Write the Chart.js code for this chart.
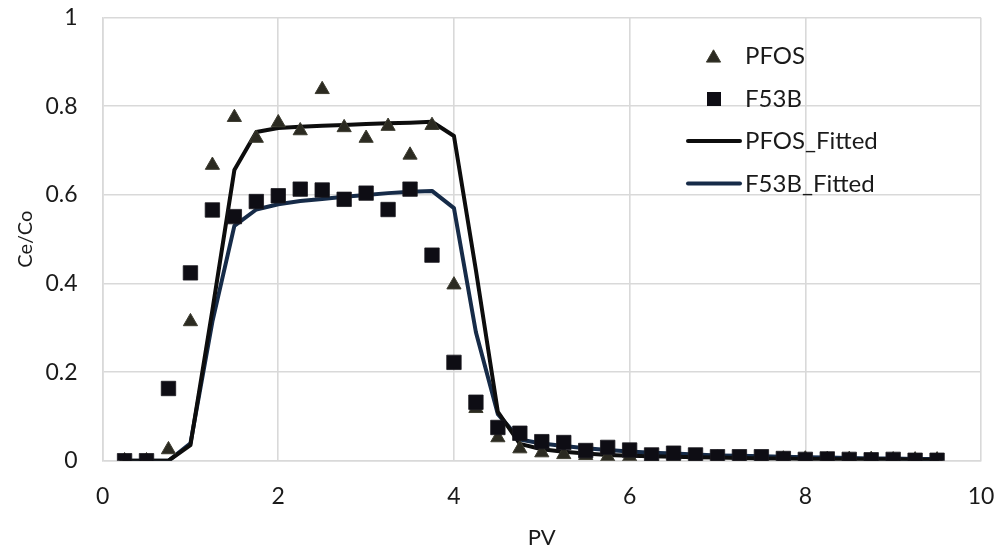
<!DOCTYPE html>
<html>
<head>
<meta charset="utf-8">
<script src="https://cdn.jsdelivr.net/npm/chart.js@4/dist/chart.umd.min.js"></script>
<style>
html,body{margin:0;padding:0;background:#ffffff;}
#wrap{width:1000px;height:550px;}
</style>
</head>
<body>
<div id="wrap"><canvas id="c" width="1000" height="550"></canvas></div>
<script>
// ---- data ----
const pv = [0.25, 0.5, 0.75, 1.0, 1.25, 1.5, 1.75, 2.0, 2.25, 2.5, 2.75, 3.0, 3.25, 3.5, 3.75, 4.0, 4.25, 4.5, 4.75, 5.0,
            5.25, 5.5, 5.75, 6.0, 6.25, 6.5, 6.75, 7.0, 7.25, 7.5, 7.75, 8.0, 8.25, 8.5, 8.75, 9.0, 9.25, 9.5];

const pfos = [0, 0, 0.025, 0.314, 0.667, 0.775, 0.728, 0.763, 0.745, 0.838, 0.752, 0.728, 0.755, 0.690, 0.757, 0.397, 0.118, 0.052, 0.027, 0.018,
              0.014, 0.012, 0.009, 0.009, 0.008, 0.007, 0.006, 0.006, 0.005, 0.005, 0.004, 0.004, 0.003, 0.003, 0.003, 0.002, 0.002, 0.002];

const f53b = [0, 0, 0.163, 0.424, 0.566, 0.551, 0.585, 0.598, 0.613, 0.611, 0.590, 0.604, 0.567, 0.613, 0.464, 0.222, 0.132, 0.075, 0.062, 0.043,
              0.041, 0.023, 0.030, 0.024, 0.013, 0.017, 0.013, 0.009, 0.009, 0.009, 0.005, 0.003, 0.004, 0.003, 0.002, 0.003, 0.001, 0.001];

const pfosFitted = [0, 0, 0, 0.035, 0.340, 0.656, 0.742, 0.751, 0.754, 0.756, 0.758, 0.760, 0.762, 0.763, 0.765, 0.733, 0.430, 0.110, 0.038, 0.026,
                    0.020, 0.016, 0.013, 0.011, 0.010, 0.009, 0.008, 0.007, 0.006, 0.005, 0.005, 0.004, 0.004, 0.003, 0.003, 0.003, 0.002, 0.002];

const f53bFitted = [0, 0, 0, 0.039, 0.314, 0.530, 0.567, 0.579, 0.586, 0.591, 0.596, 0.600, 0.604, 0.607, 0.609, 0.570, 0.290, 0.105, 0.048, 0.039,
                    0.033, 0.028, 0.024, 0.021, 0.018, 0.016, 0.014, 0.012, 0.011, 0.010, 0.009, 0.008, 0.007, 0.006, 0.005, 0.005, 0.004, 0.004];

const seriesNames = ['PFOS', 'F53B', 'PFOS_Fitted', 'F53B_Fitted'];
const xTitle = 'PV';
const yTitle = 'Ce/Co';

// ---- styles ----
const FONT = 'Lato, "Open Sans", "Liberation Sans", sans-serif';
const TEXT = '#1a1a1a';
const GRID = '#d9d9d9';
const C_TRI = '#2b2a21';
const C_SQ = '#0e0d14';
const C_BLACK = '#0d0d0d';
const C_BLUE = '#162b48';

const toXY = arr => pv.map((x, i) => ({x: x, y: arr[i]}));

const legendPlugin = {
  id: 'insideLegend',
  afterDraw(chart) {
    const ctx = chart.ctx;
    const ds = chart.data.datasets;
    ctx.save();
    ctx.font = '24px ' + FONT;
    ctx.fillStyle = TEXT;
    ctx.textAlign = 'left';
    ctx.textBaseline = 'alphabetic';
    const textX = 745;
    // PFOS triangle
    const r = 8.2;
    ctx.beginPath();
    const tx = 713.5, ty = 58;
    ctx.moveTo(tx, ty - r);
    ctx.lineTo(tx + r * 0.866, ty + r * 0.5);
    ctx.lineTo(tx - r * 0.866, ty + r * 0.5);
    ctx.closePath();
    ctx.fillStyle = C_TRI; ctx.fill();
    ctx.lineWidth = 1; ctx.strokeStyle = '#3d3c30'; ctx.stroke();
    ctx.fillStyle = TEXT;
    ctx.fillText(ds[0].label, textX, 64);
    // F53B square
    ctx.fillStyle = C_SQ;
    ctx.fillRect(707, 92, 14, 14);
    ctx.fillStyle = TEXT;
    ctx.fillText(ds[1].label, textX, 106.5);
    // PFOS_Fitted line
    ctx.lineCap = 'round';
    ctx.lineWidth = 4;
    ctx.strokeStyle = C_BLACK;
    ctx.beginPath(); ctx.moveTo(688, 141); ctx.lineTo(740, 141); ctx.stroke();
    ctx.fillText(ds[2].label, textX, 149);
    // F53B_Fitted line
    ctx.strokeStyle = C_BLUE;
    ctx.beginPath(); ctx.moveTo(688, 183.5); ctx.lineTo(740, 183.5); ctx.stroke();
    ctx.fillText(ds[3].label, textX, 192);
    ctx.restore();
  }
};

const fmt = v => String(Math.round(v * 10) / 10);

new Chart(document.getElementById('c'), {
  type: 'scatter',
  data: {
    datasets: [
      {
        label: seriesNames[0], data: toXY(pfos), showLine: false,
        pointStyle: 'triangle', pointRadius: 8.2, pointHoverRadius: 8.2,
        backgroundColor: C_TRI, borderColor: '#3d3c30', borderWidth: 1, order: 1
      },
      {
        label: seriesNames[1], data: toXY(f53b), showLine: false,
        pointStyle: 'rect', pointRadius: 10.2, pointHoverRadius: 10.2,
        backgroundColor: C_SQ, borderColor: '#1a1920', borderWidth: 0.8, order: 0
      },
      {
        label: seriesNames[2], data: toXY(pfosFitted), showLine: true,
        pointRadius: 0, borderColor: C_BLACK, backgroundColor: C_BLACK,
        borderWidth: 4, tension: 0, borderJoinStyle: 'round', borderCapStyle: 'round', order: 2
      },
      {
        label: seriesNames[3], data: toXY(f53bFitted), showLine: true,
        pointRadius: 0, borderColor: C_BLUE, backgroundColor: C_BLUE,
        borderWidth: 4, tension: 0, borderJoinStyle: 'round', borderCapStyle: 'round', order: 3
      }
    ]
  },
  options: {
    responsive: false,
    animation: false,
    devicePixelRatio: 1,
    layout: { padding: { left: 0, right: 19, top: 17.7, bottom: 0 } },
    plugins: {
      legend: { display: false },
      tooltip: { enabled: false }
    },
    scales: {
      x: {
        type: 'linear', min: 0, max: 10,
        afterFit: s => { s.height = 89.3; s.paddingLeft = 0; s.paddingRight = 0; },
        ticks: { stepSize: 2, font: { family: FONT, size: 23 }, color: TEXT, padding: 22, maxRotation: 0, callback: fmt },
        grid: { color: GRID, lineWidth: 1.6, drawTicks: false },
        border: { color: GRID, width: 1.6 },
        title: { display: true, text: xTitle, font: { family: FONT, size: 22 }, color: TEXT, padding: { top: 0, bottom: -1 } }
      },
      y: {
        type: 'linear', min: 0, max: 1,
        afterFit: s => { s.width = 102.6; s.paddingTop = 0; s.paddingBottom = 0; },
        ticks: { stepSize: 0.2, font: { family: FONT, size: 23 }, color: TEXT, padding: 25, callback: fmt },
        grid: { color: GRID, lineWidth: 1.6, drawTicks: false },
        border: { color: GRID, width: 1.6 },
        title: { display: true, text: yTitle, font: { family: FONT, size: 20 }, color: TEXT, padding: { top: 14, bottom: 0 } }
      }
    }
  },
  plugins: [legendPlugin]
});
</script>
</body>
</html>
